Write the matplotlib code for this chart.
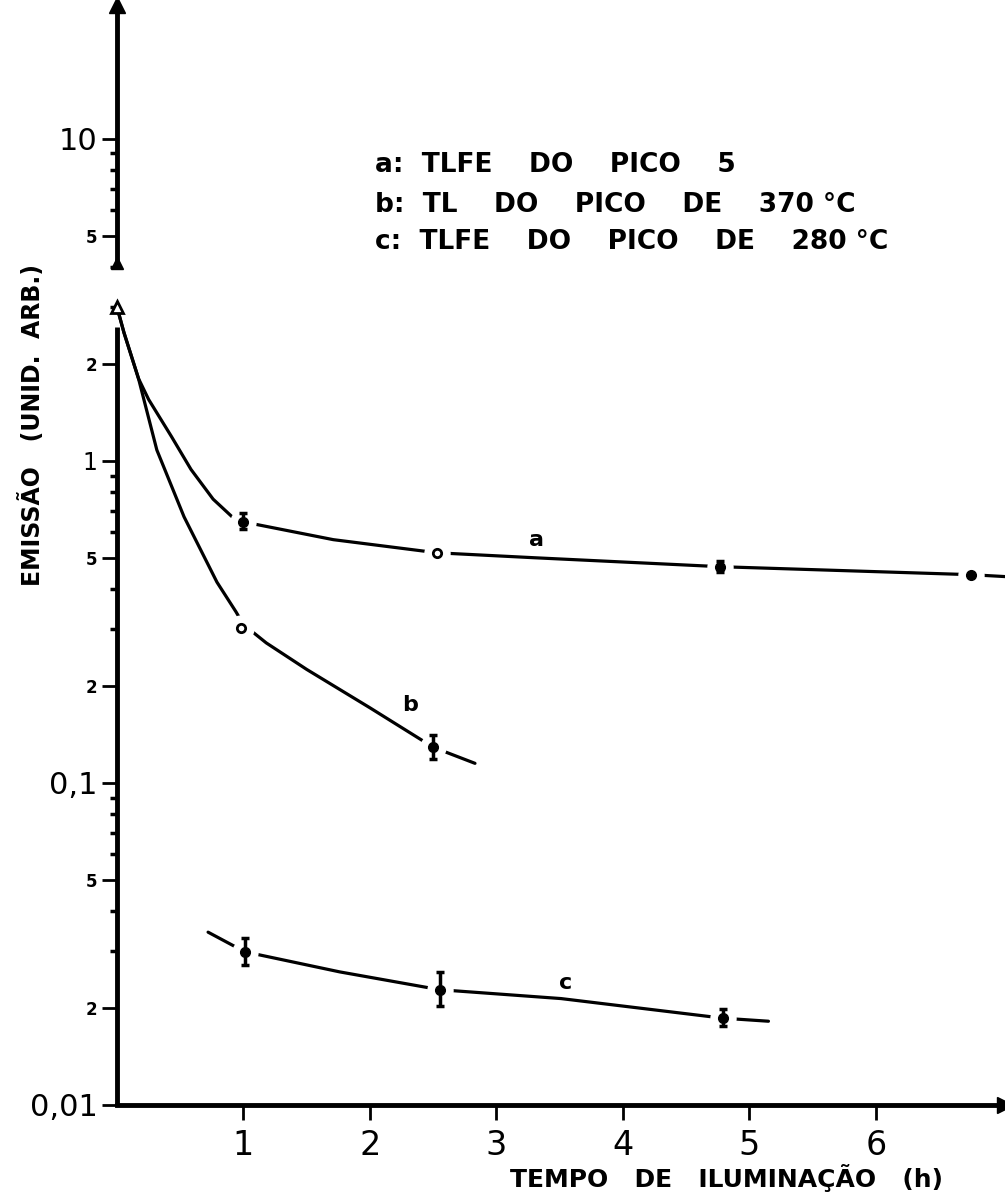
import matplotlib
matplotlib.use("Agg")
import matplotlib.pyplot as plt
from matplotlib.ticker import LogLocator, NullFormatter

# curvas desenhadas
a_x = [0, 0.055, 0.17, 0.25, 0.43, 0.585, 0.76, 0.91, 1.0, 1.71, 2.53, 3.3, 4.77, 6.75, 7.02]
a_y = [3.0, 2.5, 1.80, 1.55, 1.19, 0.94, 0.76, 0.67, 0.646, 0.569, 0.518, 0.50, 0.469, 0.443, 0.437]
b_x = [0, 0.055, 0.17, 0.315, 0.53, 0.79, 0.94, 1.0, 1.18, 1.5, 2.0, 2.5, 2.83]
b_y = [3.0, 2.5, 1.80, 1.08, 0.67, 0.42, 0.34, 0.31, 0.272, 0.225, 0.171, 0.129, 0.115]
c_x = [0.72, 1.01, 1.76, 2.55, 3.51, 4.79, 5.15]
c_y = [0.0344, 0.0299, 0.0259, 0.0228, 0.0214, 0.0186, 0.0182]

# pontos medidos com barras de erro
a_px = [1.0, 2.53, 4.77, 6.75]
a_py = [0.646, 0.518, 0.469, 0.443]
a_lo = [0.615, 0.518, 0.450, 0.443]
a_hi = [0.690, 0.518, 0.488, 0.443]
a_aberto = [False, True, False, False]

b_px = [0.98, 2.5]
b_py = [0.303, 0.129]
b_lo = [0.303, 0.119]
b_hi = [0.303, 0.141]
b_aberto = [True, False]

c_px = [1.01, 2.55, 4.79]
c_py = [0.0299, 0.0228, 0.0186]
c_lo = [0.0272, 0.0203, 0.0176]
c_hi = [0.0330, 0.0258, 0.0198]
c_aberto = [False, False, False]

inicio_x, inicio_y = 0, 3.0

y_ticks = [0.01, 0.02, 0.05, 0.1, 0.2, 0.5, 1, 2, 5, 10]
y_rotulos = ['0,01', '2', '5', '0,1', '2', '5', '1', '2', '5', '10']
x_ticks = [1, 2, 3, 4, 5, 6]

legenda = ['a:  TLFE    DO    PICO    5',
           'b:  TL    DO    PICO    DE    370 °C',
           'c:  TLFE    DO    PICO    DE    280 °C']

W, H = 1005, 1199
XMAX, YMAX = 7.02, 26

fig = plt.figure(figsize=(W / 100, H / 100), dpi=100)
ax = fig.add_axes([117 / W, 1 - 1105 / H, 888 / W, 1100 / H])
ax.set_yscale('log')
ax.set_xlim(0, XMAX)
ax.set_ylim(0.01, YMAX)

for s in ['top', 'right', 'left']:
    ax.spines[s].set_visible(False)
ax.spines['bottom'].set_linewidth(3.5)

# eixo y desenhado a mao, com a quebra perto do inicio das curvas
ax.plot([0, 0], [0.01, 2.6], color='k', lw=3.5, clip_on=False, solid_capstyle='butt')
ax.plot([0, 0], [4.1, YMAX], color='k', lw=3.5, clip_on=False, solid_capstyle='butt')
ax.plot(0, 4.1, marker='^', ms=9, color='k', clip_on=False)
ax.plot(0, YMAX, marker='^', ms=11, color='k', clip_on=False)
ax.plot(XMAX, 0.01, marker='>', ms=12, color='k', clip_on=False)

for cx, cy in [(a_x, a_y), (b_x, b_y), (c_x, c_y)]:
    ax.plot(cx, cy, color='k', lw=2.3, solid_capstyle='round', solid_joinstyle='round',
            zorder=2, clip_on=False)


def pontos(px, py, lo, hi, aberto):
    ax.plot(px, py, 'o', ms=19, mfc='white', mec='none', zorder=3, clip_on=False)
    for x, y, l, h, ab in zip(px, py, lo, hi, aberto):
        if ab:
            ax.plot(x, y, 'o', ms=6, mfc='white', mec='k', mew=2, zorder=5)
        else:
            ax.errorbar(x, y, yerr=[[y - l], [h - y]], fmt='o', ms=7, color='k',
                        elinewidth=2.5, capsize=3, capthick=2.5, zorder=5)


pontos(a_px, a_py, a_lo, a_hi, a_aberto)
pontos(b_px, b_py, b_lo, b_hi, b_aberto)
pontos(c_px, c_py, c_lo, c_hi, c_aberto)
ax.plot(inicio_x, inicio_y, '^', ms=8, mfc='white', mec='k', mew=2, zorder=5, clip_on=False)

ax.text(3.32, 0.569, 'a', fontsize=16, fontweight='bold', ha='center', va='center')
ax.text(2.32, 0.175, 'b', fontsize=16, fontweight='bold', ha='center', va='center')
ax.text(3.55, 0.0239, 'c', fontsize=16, fontweight='bold', ha='center', va='center')

ax.set_yticks(y_ticks)
ax.set_yticklabels(y_rotulos)
ax.yaxis.set_minor_locator(LogLocator(base=10, subs=[3, 4, 6, 7, 8, 9]))
ax.yaxis.set_minor_formatter(NullFormatter())
ax.tick_params(axis='y', which='major', length=11, width=2, pad=3)
ax.tick_params(axis='y', which='minor', length=5, width=2.5)
for t in ax.get_yticklabels():
    if t.get_text() in ('0,01', '0,1', '10'):
        t.set_fontsize(22)
    elif t.get_text() == '1':
        t.set_fontsize(17)
    else:
        t.set_fontsize(12)
        t.set_fontweight('bold')

ax.set_xticks(x_ticks)
ax.set_xticklabels([str(v) for v in x_ticks])
ax.tick_params(axis='x', length=11, width=2, pad=6, labelsize=24)

fig.text(32 / W, 1 - 425 / H, 'EMISSÃO   (UNID.  ARB.)', rotation=90, ha='center',
         va='center', fontsize=17, fontweight='bold')
fig.text(726 / W, 1 - 1178 / H, 'TEMPO   DE   ILUMINAÇÃO   (h)', ha='center', va='center',
         fontsize=18, fontweight='bold')
for i, linha in enumerate(legenda):
    fig.text(375 / W, 1 - [165, 205, 242][i] / H, linha, ha='left', va='center',
             fontsize=19, fontweight='bold')

fig.savefig('out.png', dpi=100)
